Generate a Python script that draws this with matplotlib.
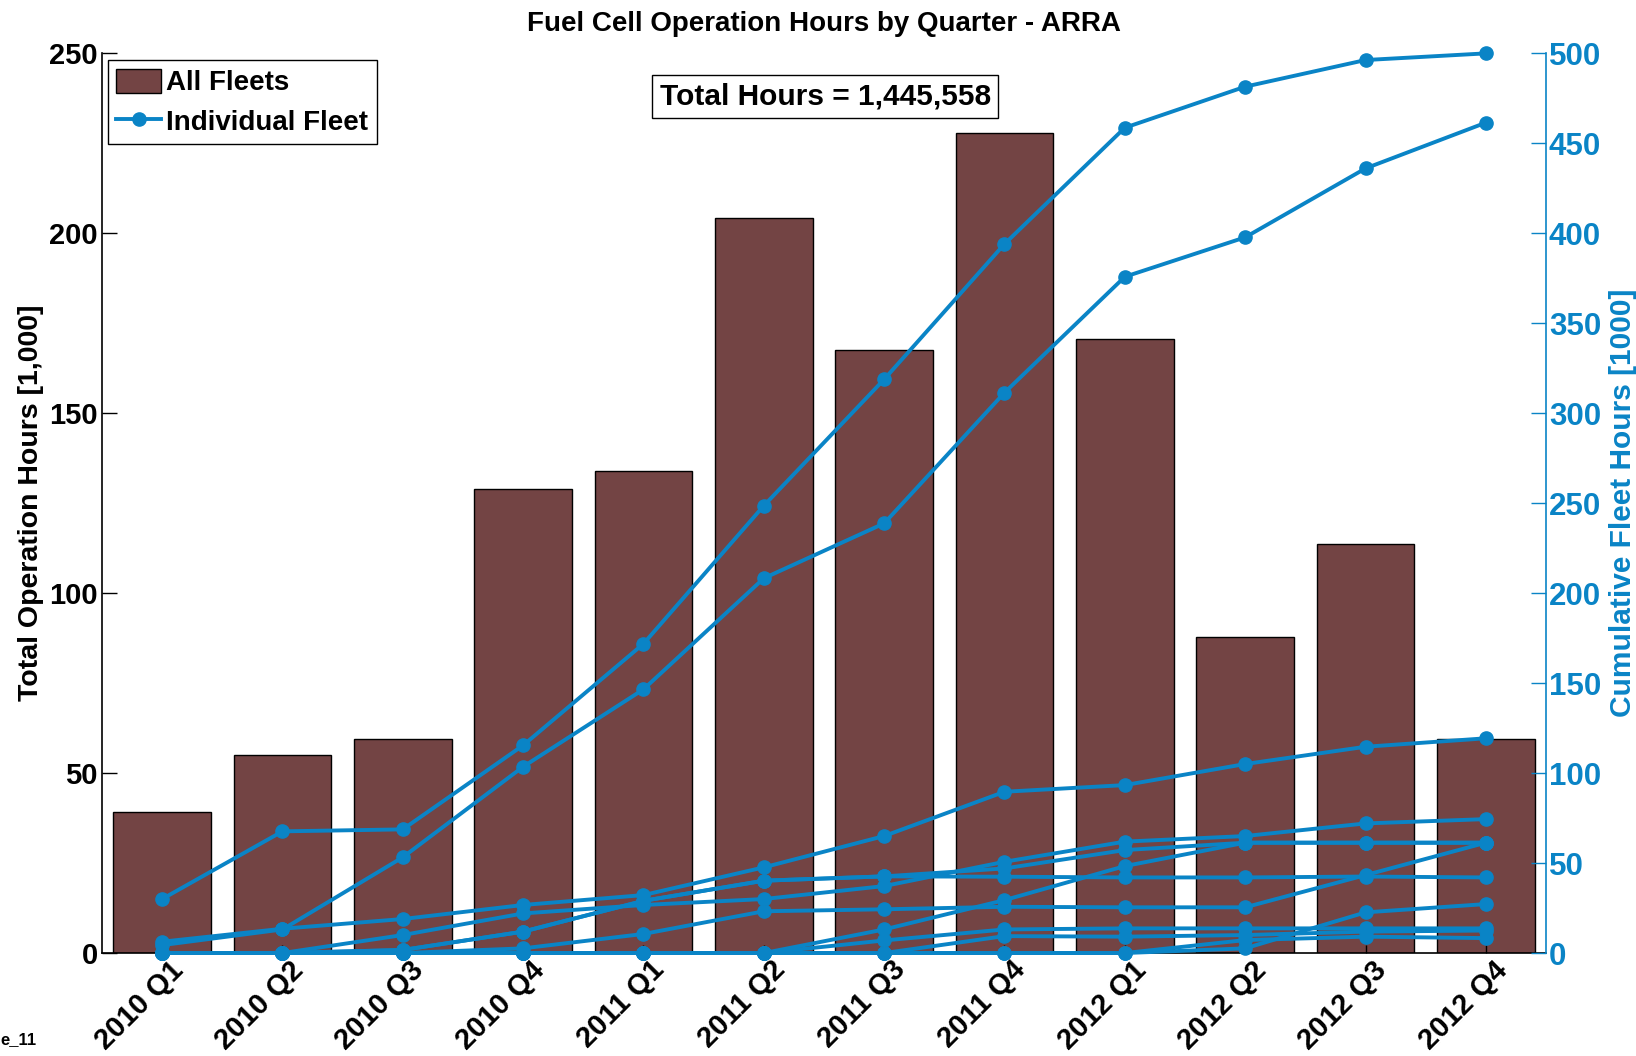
import matplotlib
matplotlib.use("Agg")
import matplotlib.pyplot as plt
from matplotlib.patches import Patch
from matplotlib.lines import Line2D
from matplotlib.transforms import ScaledTranslation

plt.rcParams['font.family'] = ['Liberation Sans', 'DejaVu Sans']
plt.rcParams['font.weight'] = 'bold'

quarters = ["2010 Q1", "2010 Q2", "2010 Q3", "2010 Q4",
            "2011 Q1", "2011 Q2", "2011 Q3", "2011 Q4",
            "2012 Q1", "2012 Q2", "2012 Q3", "2012 Q4"]

# Total operation hours per quarter, all fleets [1,000]
all_fleets = [39.1, 54.9, 59.4, 128.8, 134.0, 204.1, 167.6, 227.7, 170.7, 87.7, 113.5, 59.4]

# Cumulative hours per individual fleet [1000]
fleet_a = [30.0, 67.6, 68.7, 115.4, 171.8, 248.5, 318.7, 393.9, 458.5, 481.3, 496.1, 499.8]
fleet_b = [4.4, 13.1, 53.2, 103.5, 146.5, 208.2, 238.7, 311.3, 375.7, 397.6, 435.9, 461.3]
fleet_c = [6.3, 13.5, 18.9, 26.7, 32.2, 47.6, 65.0, 89.6, 93.3, 105.0, 114.6, 119.3]
fleet_d = [0, 0, 10.0, 22.0, 26.7, 30.0, 37.2, 50.7, 61.9, 65.0, 72.0, 74.4]
fleet_e = [0, 0, 1.7, 11.9, 29.0, 40.2, 42.6, 42.4, 42.0, 42.0, 42.5, 42.0]
fleet_f = [0, 0, 0, 2.6, 10.6, 23.2, 24.3, 25.7, 25.4, 25.4, 43.3, 61.3]
fleet_g = [0, 0, 0, 0, 0, 0, 13.1, 29.4, 48.3, 61.3, 61.3, 61.3]
fleet_h = [0, 0, 0, 0, 0, 0, 7.0, 13.1, 13.7, 13.7, 13.7, 13.7]
fleet_i = [0, 0, 0, 0, 0, 0, 0, 9.4, 9.1, 10.0, 11.9, 12.5]
fleet_j = [0, 0, 0, 0, 0, 0, 0, 0, 0, 2.6, 22.6, 27.2]
fleet_k = [0, 0, 0, 0, 0, 0, 0, 0, 0, 7.2, 9.1, 8.3]
fleet_l = [0, 0, 1.7, 11.9, 29.0, 40.2, 42.6, 47.0, 57.2, 61.3, 61.3, 61.3]

fleets = [fleet_a, fleet_b, fleet_c, fleet_d, fleet_e, fleet_f,
          fleet_g, fleet_h, fleet_i, fleet_j, fleet_k, fleet_l]

total_text = "Total Hours = 1,445,558"

bar_color = "#734444"
line_color = "#0a84c6"

fig = plt.figure(figsize=(16.36, 10.56), dpi=100)
ax = fig.add_axes([0.0623, 0.0975, 0.8827, 0.8523])
x = list(range(len(quarters)))

ax.bar(x, all_fleets, width=0.81, color=bar_color, edgecolor="black", linewidth=1.0)
ax.set_xlim(-0.5, 11.5)
ax.set_ylim(0, 250)
ax.set_yticks([0, 50, 100, 150, 200, 250])
ax.set_xticks(x)
ax.set_xticklabels(quarters, rotation=45, ha='right', rotation_mode='anchor',
                   fontsize=21, fontweight='bold')
ax.tick_params(axis='y', direction='in', length=11, width=1, labelsize=21, pad=3)
ax.tick_params(axis='x', direction='in', length=6, width=1, pad=2)
offset = ScaledTranslation(7 / 100, 0, fig.dpi_scale_trans)
for lab in ax.get_xticklabels():
    lab.set_transform(lab.get_transform() + offset)
for lab in ax.get_yticklabels():
    lab.set_fontweight('bold')
ax.set_ylabel("Total Operation Hours [1,000]", fontsize=20.5, fontweight='bold', labelpad=4)
ax.spines['top'].set_visible(False)
ax.spines['right'].set_visible(False)
ax.spines['left'].set_linewidth(1.2)
ax.spines['bottom'].set_linewidth(1.2)

ax2 = ax.twinx()
for s in fleets:
    ax2.plot(x, s, color=line_color, linewidth=2.8, marker='o', markersize=9.5,
             clip_on=False, zorder=3)
ax2.set_ylim(0, 500)
ax2.set_yticks(list(range(0, 501, 50)))
ax2.tick_params(axis='y', direction='in', length=11, width=1, labelsize=22.5,
                colors=line_color, pad=2)
for lab in ax2.get_yticklabels():
    lab.set_fontweight('bold')
ax2.set_ylabel("Cumulative Fleet Hours [1000]", fontsize=21.5, fontweight='bold',
               color=line_color, labelpad=6)
ax2.spines['top'].set_visible(False)
ax2.spines['left'].set_visible(False)
ax2.spines['bottom'].set_visible(False)
ax2.spines['right'].set_color(line_color)
ax2.spines['right'].set_linewidth(1.2)

ax.set_title("Fuel Cell Operation Hours by Quarter - ARRA", fontsize=20,
             fontweight='bold', pad=16)

handles = [Patch(facecolor=bar_color, edgecolor="black", linewidth=1.0),
           Line2D([0], [0], color=line_color, linewidth=2.8, marker='o', markersize=9.5)]
leg = ax2.legend(handles, ["All Fleets", "Individual Fleet"], loc='upper left',
                 bbox_to_anchor=(0.0043, 0.992), prop={'size': 20, 'weight': 'bold'},
                 fancybox=False, edgecolor='black', framealpha=1,
                 handlelength=1.6, handleheight=1.0, handletextpad=0.2, borderpad=0.3,
                 labelspacing=0.4, borderaxespad=0)
leg.get_frame().set_linewidth(1.0)

ax2.text(0.501, 0.952, total_text, transform=ax2.transAxes, ha='center', va='center',
         fontsize=21.5, fontweight='bold',
         bbox=dict(boxstyle='square,pad=0.25', facecolor='white', edgecolor='black', linewidth=1.0))

fig.text(0.0005, 0.0085, "e_11", fontsize=12, fontweight='bold', ha='left', va='bottom')

fig.savefig("out.png", dpi=100)
